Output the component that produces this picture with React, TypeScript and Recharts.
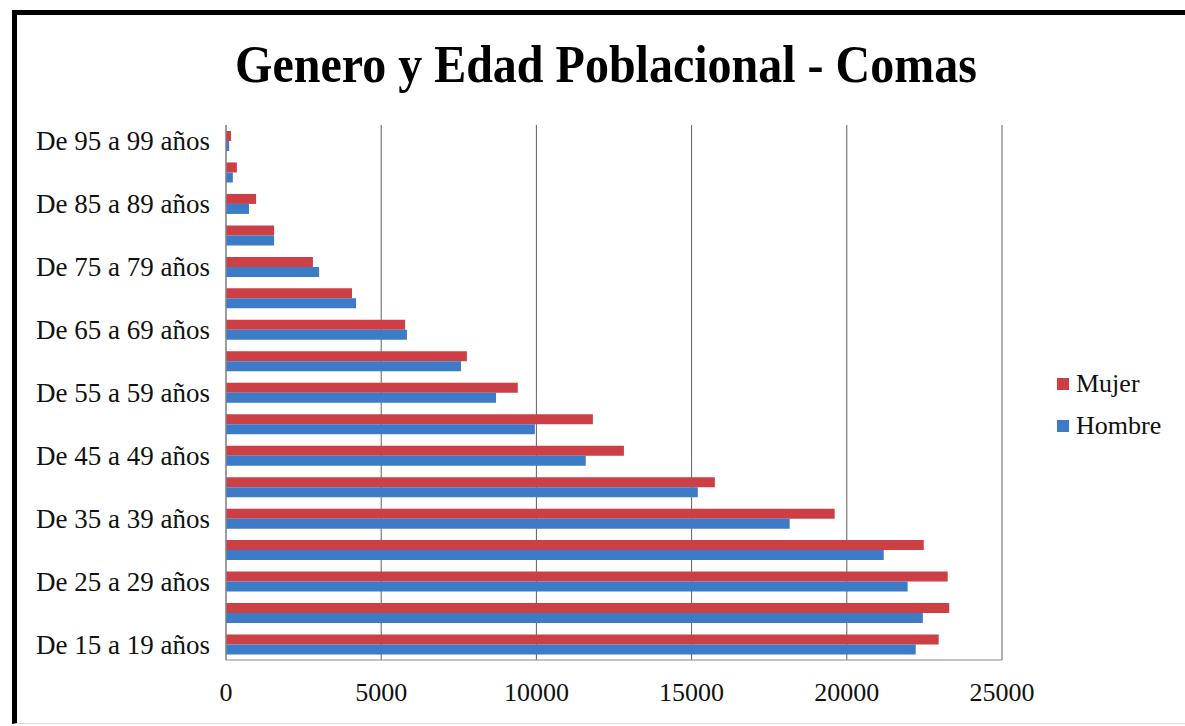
import React from 'react';
import { BarChart, Bar, XAxis, YAxis, CartesianGrid } from 'recharts';

// age groups, bottom to top
const ageGroups = [
  'De 15 a 19 años', 'De 20 a 24 años', 'De 25 a 29 años', 'De 30 a 34 años',
  'De 35 a 39 años', 'De 40 a 44 años', 'De 45 a 49 años', 'De 50 a 54 años',
  'De 55 a 59 años', 'De 60 a 64 años', 'De 65 a 69 años', 'De 70 a 74 años',
  'De 75 a 79 años', 'De 80 a 84 años', 'De 85 a 89 años', 'De 90 a 94 años',
  'De 95 a 99 años'
];

const mujer = [
  22960, 23300, 23250, 22480, 19610, 15750, 12820, 11820, 9400,
  7760, 5770, 4060, 2800, 1550, 970, 350, 160
];

const hombre = [
  22220, 22450, 21960, 21190, 18160, 15200, 11590, 9950, 8700,
  7570, 5830, 4190, 3000, 1550, 740, 220, 100
];

const xTicks = [0, 5000, 10000, 15000, 20000, 25000];

const series = [
  { key: 'mujer', name: 'Mujer', color: '#CC3F45' },
  { key: 'hombre', name: 'Hombre', color: '#3C7BC8' }
];

const data = ageGroups.map((g, i) => ({ group: g, mujer: mujer[i], hombre: hombre[i] }));

const FONT = '"Liberation Serif", "Times New Roman", serif';

export default function App() {
  return (
    <div style={{ position: 'absolute', left: 0, top: 0, width: 1185, height: 726, background: '#fff', fontFamily: FONT }}>
      {/* frame */}
      <div
        style={{
          position: 'absolute', left: 12, top: 10, width: 1168, height: 708,
          borderTop: '5px solid #000', borderLeft: '5px solid #000',
          borderRight: '1px solid #ddd', borderBottom: '1px solid #ddd'
        }}
      />
      <div
        style={{
          position: 'absolute', left: 0, width: 1212, top: 36, textAlign: 'center',
          fontSize: 48, fontWeight: 'bold', color: '#000', lineHeight: '56px',
          transform: 'scaleY(1.1)'
        }}
      >
        Genero y Edad Poblacional - Comas
      </div>

      <div style={{ position: 'absolute', left: 0, top: 0 }}>
        <BarChart
          width={1185}
          height={726}
          data={data}
          layout="vertical"
          margin={{ top: 125, right: 183, bottom: 0, left: 0 }}
          barGap={0}
        >
          <CartesianGrid horizontal={false} stroke="#5f5f5f" />
          <XAxis
            type="number"
            domain={[0, 25000]}
            ticks={xTicks}
            height={66}
            axisLine={{ stroke: '#8a8a8a' }}
            tickLine={false}
            tickSize={0}
            tickMargin={23}
            tick={{ fontSize: 26, fill: '#111', fontFamily: FONT }}
          />
          <YAxis
            type="category"
            dataKey="group"
            reversed
            width={226}
            interval={1}
            axisLine={{ stroke: '#8a8a8a' }}
            tickLine={false}
            tickSize={0}
            tickMargin={16}
            tick={{ fontSize: 27, fill: '#111', fontFamily: FONT }}
          />
          {series.map(s => (
            <Bar key={s.key} dataKey={s.key} name={s.name} fill={s.color} barSize={10} isAnimationActive={false} />
          ))}
        </BarChart>
      </div>

      {/* legend */}
      <div style={{ position: 'absolute', left: 1057, top: 363 }}>
        {series.map(s => (
          <div key={s.key} style={{ display: 'flex', alignItems: 'center', height: 42, fontSize: 26, color: '#111' }}>
            <span style={{ display: 'inline-block', width: 12, height: 12, background: s.color, marginRight: 7 }} />
            {s.name}
          </div>
        ))}
      </div>
    </div>
  );
}
